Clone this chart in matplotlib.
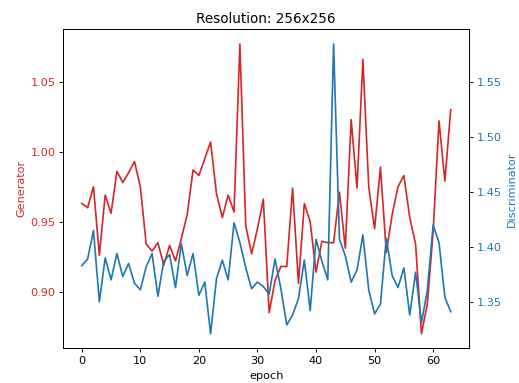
import matplotlib
matplotlib.use("Agg")
import matplotlib.pyplot as plt
import numpy as np

epochs = np.arange(64)

generator = [
    0.963, 0.960, 0.975, 0.926, 0.969, 0.956, 0.986, 0.978, 0.985, 0.993,
    0.975, 0.934, 0.929, 0.935, 0.919, 0.933, 0.922, 0.938, 0.955, 0.987,
    0.983, 0.995, 1.007, 0.970, 0.953, 0.969, 0.957, 1.077, 0.947, 0.927,
    0.945, 0.966, 0.885, 0.908, 0.918, 0.918, 0.974, 0.906, 0.963, 0.950,
    0.914, 0.936, 0.935, 0.935, 0.971, 0.931, 1.023, 0.974, 1.066, 0.975,
    0.945, 0.989, 0.928, 0.955, 0.975, 0.983, 0.953, 0.934, 0.870, 0.891,
    0.943, 1.022, 0.979, 1.030,
]

discriminator = [
    1.383, 1.389, 1.415, 1.350, 1.390, 1.370, 1.394, 1.373, 1.385, 1.367,
    1.361, 1.382, 1.394, 1.355, 1.387, 1.393, 1.363, 1.403, 1.374, 1.394,
    1.356, 1.368, 1.321, 1.371, 1.388, 1.370, 1.422, 1.404, 1.381, 1.362,
    1.368, 1.364, 1.357, 1.389, 1.362, 1.329, 1.338, 1.353, 1.388, 1.342,
    1.407, 1.387, 1.370, 1.585, 1.407, 1.392, 1.368, 1.379, 1.411, 1.361,
    1.339, 1.348, 1.408, 1.374, 1.363, 1.381, 1.338, 1.377, 1.331, 1.360,
    1.420, 1.404, 1.354, 1.341,
]

DPI = 81
fig, ax1 = plt.subplots(figsize=(519 / DPI, 383 / DPI), dpi=DPI)
fig.subplots_adjust(left=0.122, right=0.904, top=0.923, bottom=0.091)

ax1.plot(epochs, generator, color="tab:red")
ax1.set_xlabel("epoch")
ax1.set_ylabel("Generator", color="tab:red")
ax1.tick_params(axis="y", labelcolor="tab:red")

ax2 = ax1.twinx()
ax2.plot(epochs, discriminator, color="tab:blue")
ax2.set_ylabel("Discriminator", color="tab:blue")
ax2.tick_params(axis="y", labelcolor="tab:blue")

ax1.set_title("Resolution: 256x256")
fig.savefig("out.png", dpi=DPI)
